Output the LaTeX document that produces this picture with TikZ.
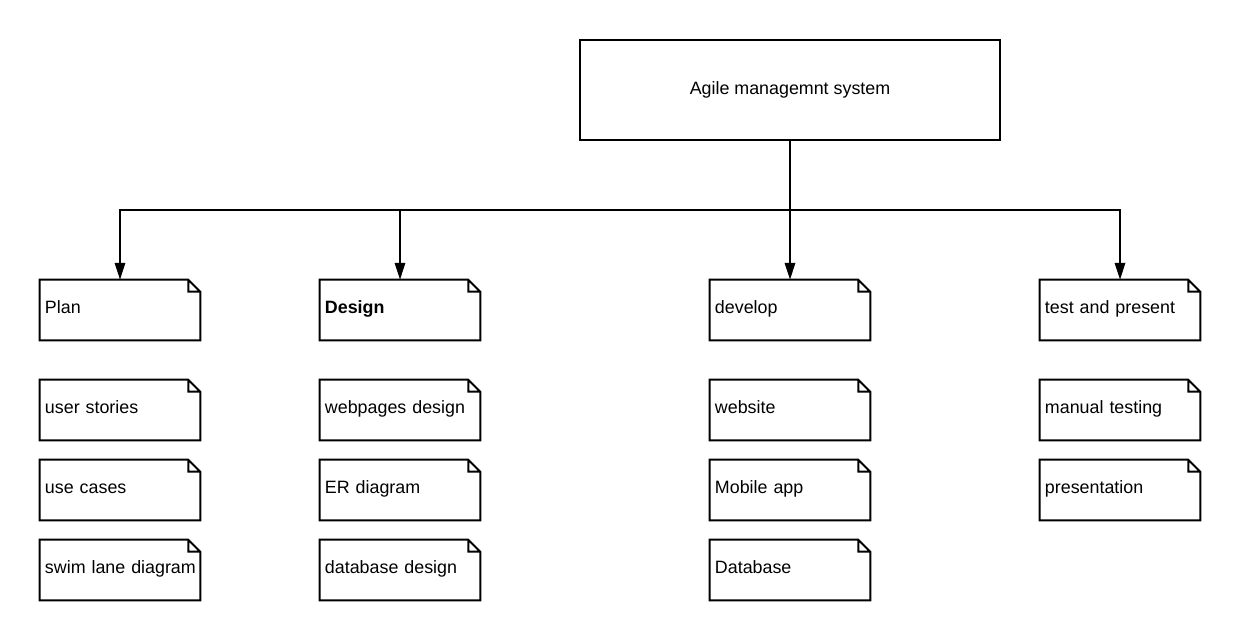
\documentclass[tikz,border=0pt]{standalone}
\usepackage{fontspec}
\setmainfont{Liberation Sans}
\usetikzlibrary{arrows.meta}

\begin{document}
\begin{tikzpicture}[x=0.025cm, y=-0.025cm,
    txt/.style={font=\fontsize{12.7}{15}\selectfont},
    sysbox/.style={draw, line width=1.4pt, minimum width=10.5cm, minimum height=2.5cm, txt},
    notebox/.style={rectangle, minimum width=4cm, minimum height=1.5cm, text width=3.75cm,
        text height=0.75em, text depth=0.2em,
        inner xsep=0.125cm, inner ysep=0pt, align=left, txt,
        append after command={\pgfextra{
            \draw[line width=1.4pt, line join=miter]
            (\tikzlastnode.north west) -- ([xshift=-0.3cm]\tikzlastnode.north east)
            -- ([yshift=-0.3cm]\tikzlastnode.north east) -- (\tikzlastnode.south east)
            -- (\tikzlastnode.south west) -- cycle
            ([xshift=-0.3cm]\tikzlastnode.north east) |- ([yshift=-0.3cm]\tikzlastnode.north east);}}},
    link/.style={line width=1.4pt, -{Triangle[length=0.42cm, width=0.26cm]}}]
    \useasboundingbox (0,0) rectangle (1240,640);

    \node[sysbox] (sys) at (790,90) {Agile managemnt system};

    % phases
    \node[notebox] (plan)    at (120,310) {Plan};
    \node[notebox] (design)  at (400,310) {\textbf{Design}};
    \node[notebox] (develop) at (790,310) {develop};
    \node[notebox] (test)    at (1120,310) {test and present};

    % tasks
    \node[notebox] (stories)  at (120,410) {user stories};
    \node[notebox] (cases)    at (120,490) {use cases};
    \node[notebox] (swimlane) at (120,570) {\hbox{swim lane diagram}};

    \node[notebox] (webpages) at (400,410) {webpages design};
    \node[notebox] (er)       at (400,490) {ER diagram};
    \node[notebox] (dbdesign) at (400,570) {database design};

    \node[notebox] (website)  at (790,410) {website};
    \node[notebox] (mobile)   at (790,490) {Mobile app};
    \node[notebox] (database) at (790,570) {Database};

    \node[notebox] (manual)   at (1120,410) {manual testing};
    \node[notebox] (present)  at (1120,490) {presentation};

    \coordinate (bus) at (790,210);
    \draw[link] (sys.south) -- (bus) -| (plan.north);
    \draw[link] (bus) -| (design.north);
    \draw[link] (bus) -- (develop.north);
    \draw[link] (bus) -| (test.north);

\end{tikzpicture}
\end{document}
